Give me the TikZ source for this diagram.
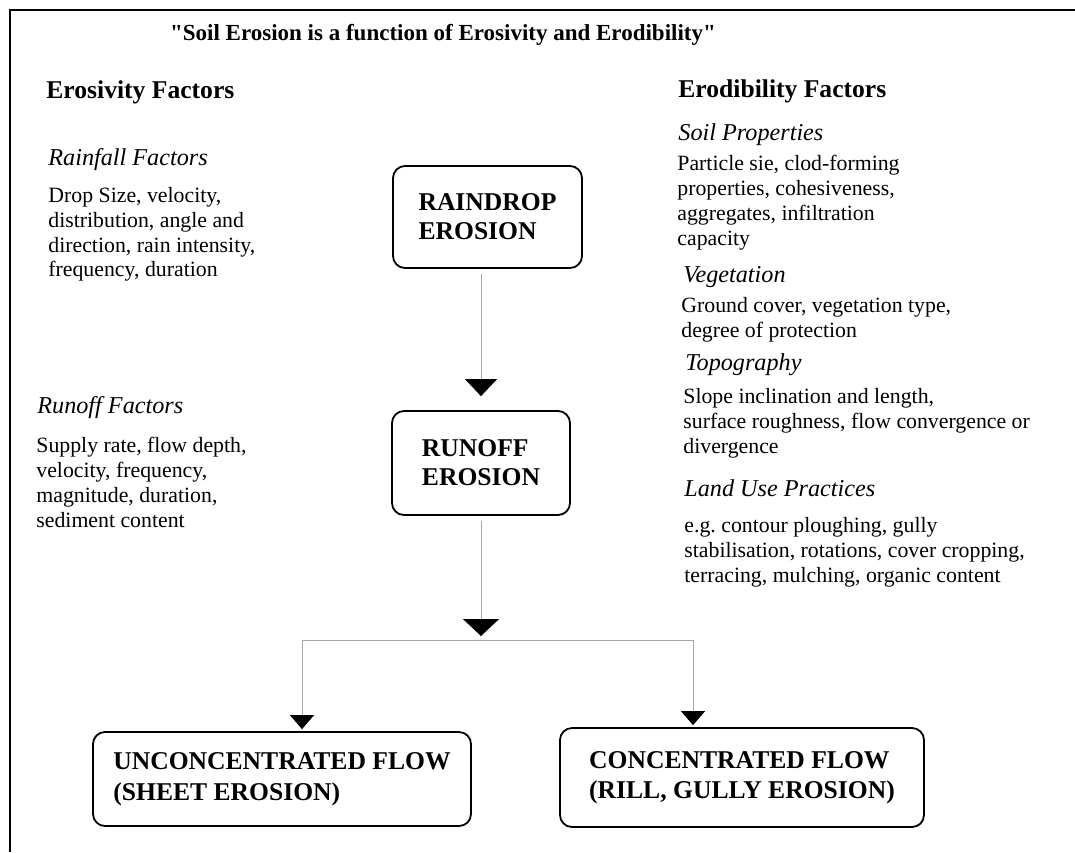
\documentclass[tikz,border=0pt]{standalone}
\usepackage{fontspec}
\setmainfont{Liberation Serif}
\usepackage{tikz}
\usetikzlibrary{positioning}
\usetikzlibrary{calc}
\usetikzlibrary{arrows.meta}

\begin{document}
\begin{tikzpicture}[x=0.5pt, y=-0.5pt]
% -------------------------------------------------
\tikzset{
  heading/.style={anchor=base west, inner sep=0pt, font=\fontsize{12.8}{15}\selectfont\bfseries},
  factor/.style={anchor=base west, inner sep=0pt, font=\fontsize{12.1}{15}\selectfont\itshape},
  detail/.style={anchor=north west, inner sep=0pt, align=left, font=\fontsize{10.9}{12.4}\selectfont},
  box/.style={draw, line width=0.9pt, rounded corners=6pt, align=left, font=\fontsize{12.8}{14.5}\selectfont\bfseries},
  line/.style={draw, gray!70, line width=0.5pt},
  bighead/.style={-{Triangle[width=#1, length=8.5pt, color=black]}},
  bighead/.default=16pt,
  smallhead/.style={-{Triangle[width=12pt, length=7pt, color=black]}}
}
% -------------------------------------------------
\useasboundingbox (0,0) rectangle (1075,852);
\draw [line width=1.3pt] (10,852) -- (10,10) -- (1075,10);

\node [font=\fontsize{11.5}{13}\selectfont\bfseries, anchor=base] (title) at (443,40)
  {\textquotedbl Soil Erosion is a function of Erosivity and Erodibility\textquotedbl};

% Erosivity side
\node [heading] (erosivity) at (46,98) {Erosivity Factors};
\node [factor] (rainfall) at (48,165) {Rainfall Factors};
\node [detail] (rainfall text) at (48,187) {Drop Size, velocity,\\distribution, angle and\\direction, rain intensity,\\frequency, duration};
\node [factor] (runoff f) at (37,413) {Runoff Factors};
\node [detail] (runoff text) at (36,437) {Supply rate, flow depth,\\velocity, frequency,\\magnitude, duration,\\sediment content};

% Erodibility side
\node [heading] (erodibility) at (678,97) {Erodibility Factors};
\node [factor] (soil) at (678,140) {Soil Properties};
\node [detail] (soil text) at (677,155) {Particle sie, clod-forming\\properties, cohesiveness,\\aggregates, infiltration\\capacity};
\node [factor] (vegetation) at (683,282) {Vegetation};
\node [detail] (vegetation text) at (681,297) {Ground cover, vegetation type,\\degree of protection};
\node [factor] (topography) at (685,370) {Topography};
\node [detail] (topography text) at (683,388) {Slope inclination and length,\\surface roughness, flow convergence or\\divergence};
\node [factor] (landuse) at (684,496) {Land Use Practices};
\node [detail] (landuse text) at (684,517) {e.g.\ contour ploughing, gully\\stabilisation, rotations, cover cropping,\\terracing, mulching, organic content};

% Erosion boxes
\node [box, minimum width=94.5pt, minimum height=51pt] (rain) at (487.5,217) {RAINDROP\\EROSION};
\node [box, minimum width=89pt, minimum height=52pt] (runoff) at (481,463) {RUNOFF\\EROSION};
\node [box, minimum width=189pt, minimum height=47pt, font=\fontsize{12.8}{15.5}\selectfont\bfseries] (sheet) at (282,779) {UNCONCENTRATED FLOW\\(SHEET EROSION)};
\node [box, minimum width=182pt, minimum height=49.5pt, font=\fontsize{12.8}{15}\selectfont\bfseries] (rill) at (742,777.5) {CONCENTRATED FLOW\\(RILL, GULLY EROSION)};

\coordinate (fork) at (481,640);
\coordinate (fork west) at (302,640);
\coordinate (fork east) at (693,640);

\draw [line, bighead, shorten <=2.5pt, shorten >=7pt] (rain.south -| runoff.north) -- (runoff.north);
\draw [line, bighead=18pt, shorten <=2.5pt, shorten >=2pt] (runoff.south) -- (fork);
\draw [line] (fork west) -- (fork east);
\draw [line, smallhead, shorten >=1pt] (fork west) -- (fork west |- sheet.north);
\draw [line, smallhead, shorten >=1pt] (fork east) -- (fork east |- rill.north);

\end{tikzpicture}
\end{document}
